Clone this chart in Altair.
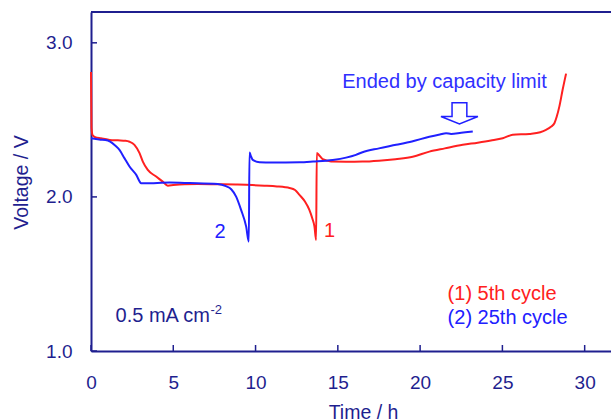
import altair as alt
import pandas as pd

# ---- data ----
red_t = [0.0, 0.03, 0.1, 0.25, 0.6, 1.14, 1.63, 2.1, 2.34, 2.64, 2.95, 3.15, 3.45, 3.96, 4.36, 4.67,
         5.0, 5.68, 6.5, 7.7, 8.8, 9.8, 10.54, 11.3, 11.8, 12.06, 12.4, 12.67, 13.0, 13.27, 13.45, 13.58,
         13.68, 13.72, 13.85, 14.08, 14.4, 14.68, 15.5, 16.5, 17.5, 18.5, 19.55, 20.56, 21.5, 22.59,
         23.5, 24.3, 25.02, 25.63, 26.64, 27.3, 27.65, 27.95, 28.16, 28.3, 28.46, 28.66, 28.87]
red_v = [2.81, 2.45, 2.40, 2.388, 2.38, 2.37, 2.367, 2.364, 2.358, 2.338, 2.284, 2.229, 2.175, 2.132, 2.099, 2.073,
         2.077, 2.082, 2.083, 2.082, 2.08, 2.077, 2.073, 2.068, 2.063, 2.058, 2.045, 2.013, 1.97, 1.916, 1.86, 1.807,
         1.72, 2.285, 2.272, 2.245, 2.235, 2.229, 2.228, 2.229, 2.235, 2.245, 2.26, 2.294, 2.315, 2.338,
         2.352, 2.366, 2.381, 2.403, 2.409, 2.42, 2.435, 2.455, 2.478, 2.52, 2.586, 2.695, 2.80]

blue_t = [0.0, 0.5, 1.02, 1.14, 1.45, 1.73, 2.04, 2.34, 2.75, 3.05, 3.3, 4.77, 6.0, 7.7, 8.2, 8.52,
          8.82, 9.12, 9.43, 9.59, 9.63, 9.7, 9.83, 10.24, 11.0, 12.67, 13.5, 14.69, 15.5, 16.1, 16.5,
          17.5, 18.54, 19.5, 20.56, 21.2, 21.58, 21.88, 22.5, 23.2]
blue_v = [2.38, 2.373, 2.366, 2.36, 2.335, 2.305, 2.25, 2.197, 2.143, 2.089, 2.088, 2.093, 2.09, 2.084, 2.07, 2.05,
          2.002, 1.916, 1.807, 1.71, 2.288, 2.27, 2.24, 2.225, 2.223, 2.225, 2.23, 2.24, 2.255, 2.273, 2.29,
          2.315, 2.338, 2.36, 2.39, 2.405, 2.413, 2.409, 2.416, 2.424]

x_ticks = [0, 5, 10, 15, 20, 25, 30]
y_ticks = [1.0, 2.0, 3.0]

NAVY = "#1f1f8f"
RED = "#ff2020"
BLUE = "#2020ff"
FONT = "Liberation Sans"

W, H = 520, 339
xs = alt.Scale(domain=[0, 31.6], nice=False, zero=False)
ys = alt.Scale(domain=[1.0, 3.2], nice=False, zero=False)

XAXIS = alt.Axis(
    values=x_ticks, ticks=False, tickSize=0, grid=False, labelFlush=False,
    labelPadding=31, labelBaseline="middle", labelFontSize=19, labelColor=NAVY, labelFont=FONT,
    domainColor=NAVY, domainWidth=2,
    titleX=272, titleY=67, titleBaseline="alphabetic", titleAlign="center",
    titleFontSize=19.5, titleFontWeight="normal", titleColor=NAVY, titleFont=FONT)
YAXIS = alt.Axis(
    values=y_ticks, format=".1f", ticks=False, tickSize=0, grid=False, labelFlush=False,
    labelPadding=19, labelFontSize=19, labelColor=NAVY, labelFont=FONT,
    domainColor=NAVY, domainWidth=2,
    titleX=-70, titleY=170, titleAngle=-90, titleBaseline="middle",
    titleAlign="center", titleFontSize=19.5, titleFontWeight="normal", titleColor=NAVY, titleFont=FONT)


def X():
    return alt.X("t:Q", scale=xs, axis=XAXIS, title="Time / h")


def Y():
    return alt.Y("v:Q", scale=ys, axis=YAXIS, title="Voltage / V")


curves = pd.DataFrame({
    "t": red_t + blue_t,
    "v": red_v + blue_v,
    "s": ["(1) 5th cycle"] * len(red_t) + ["(2) 25th cycle"] * len(blue_t),
    "o": list(range(len(red_t))) + list(range(len(blue_t))),
})

lines = alt.Chart(curves).mark_line(strokeWidth=2, interpolate="monotone").encode(
    x=X(), y=Y(),
    color=alt.Color("s:N", scale=alt.Scale(domain=["(1) 5th cycle", "(2) 25th cycle"], range=[RED, BLUE]),
                    legend=None),
    order="o:Q",
)

one = pd.DataFrame({"a": [0]})
top_frame = alt.Chart(one).mark_rule(color=NAVY, strokeWidth=2).encode(
    x=alt.value(0), x2=alt.value(W), y=alt.value(0))

xt = alt.Chart(pd.DataFrame({"t": x_ticks})).mark_rule(color=NAVY, strokeWidth=1.5).encode(
    x=X(), y=alt.value(H), y2=alt.value(H - 6))
yt = alt.Chart(pd.DataFrame({"v": y_ticks})).mark_rule(color=NAVY, strokeWidth=1.5).encode(
    y=Y(), x=alt.value(0), x2=alt.value(6))

# annotations
ann_text = ["Ended by capacity limit", "2", "1", "(1) 5th cycle", "(2) 25th cycle", "0.5 mA cm"]
ann_t = [21.48, 7.85, 14.49, 21.67, 21.67, 1.49]
ann_v = [2.708, 1.775, 1.78, 1.37, 1.214, 1.227]
ann_c = ["#3030ff", BLUE, RED, RED, BLUE, NAVY]
ann_align = ["center", "center", "center", "left", "left", "left"]
ann_base = ["alphabetic", "middle", "middle", "middle", "middle", "middle"]

texts = []
for txt, t, v, c, al, bl in zip(ann_text, ann_t, ann_v, ann_c, ann_align, ann_base):
    texts.append(alt.Chart(pd.DataFrame({"t": [t], "v": [v], "txt": [txt]})).mark_text(
        fontSize=20, font=FONT, color=c, align=al, baseline=bl).encode(
        x=X(), y=Y(), text="txt:N"))

sup = alt.Chart(pd.DataFrame({"t": [1.49], "v": [1.227], "txt": ["-2"]})).mark_text(
    fontSize=13, font=FONT, color=NAVY, align="left", baseline="middle", dx=95, dy=-6).encode(
    x=X(), y=Y(), text="txt:N")

ARROW = "M -0.4 -0.57 L 0.4 -0.57 L 0.4 0.17 L 1 0.17 L 0 0.57 L -1 0.17 L -0.4 0.17 Z"
arrow = alt.Chart(pd.DataFrame({"t": [22.39], "v": [2.542]})).mark_point(
    shape=ARROW, size=1369, filled=False, stroke=BLUE, strokeWidth=1.5, opacity=1).encode(
    x=X(), y=Y())

chart = alt.layer(lines, top_frame, xt, yt, arrow, sup, *texts).properties(
    width=W, height=H,
    autosize=alt.AutoSizeParams(type="none"),
    padding={"left": 91, "top": 12, "right": 0, "bottom": 69},
    background="white",
).configure_view(stroke=None).configure(font=FONT)

chart.save("out.html", embed_options={"renderer": "svg", "actions": False})
